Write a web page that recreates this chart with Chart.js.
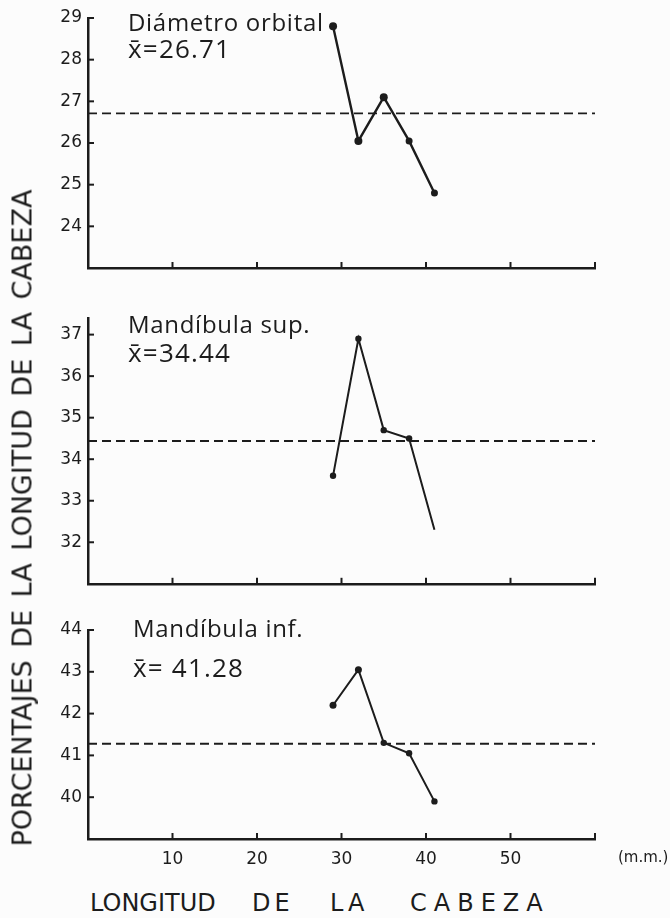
<!DOCTYPE html>
<html>
<head>
<meta charset="utf-8">
<script src="https://cdn.jsdelivr.net/npm/chart.js@4"></script>
<style>
  html, body { margin: 0; padding: 0; background: #fcfcfc; }
  body { width: 670px; height: 918px; position: relative; overflow: hidden;
         font-family: "DejaVu Sans", sans-serif; color: #1c1c1c; }
  .panel { position: absolute; left: 0; width: 670px; }
  .txt { position: absolute; white-space: nowrap; line-height: 1; }
  .ttl { font-family: "Open Sans", sans-serif; font-size: 24px; letter-spacing: 0.7px; }
  .mean { font-family: "Open Sans", sans-serif; font-size: 26px; letter-spacing: 1.2px; }
  #ytitle { left: 22px; top: 518px; font-size: 27px; word-spacing: 4px;
            transform: translate(-50%, -50%) rotate(-90deg); }
  .xw { top: 891px; font-size: 24px; }
  #unit { left: 618px; top: 850px; font-size: 15px; }
</style>
</head>
<body>
<div class="panel" style="top:0;height:290px"><canvas id="cOrb"></canvas></div>
<div class="panel" style="top:300px;height:300px"><canvas id="cSup"></canvas></div>
<div class="panel" style="top:610px;height:270px"><canvas id="cInf"></canvas></div>

<div class="txt ttl" style="left:128px;top:10px">Diámetro orbital</div>
<div class="txt mean" style="left:128px;top:35px">x̄=26.71</div>
<div class="txt ttl" style="left:128px;top:312px">Mandíbula sup.</div>
<div class="txt mean" style="left:128px;top:339px">x̄=34.44</div>
<div class="txt ttl" style="left:133px;top:616px">Mandíbula inf.</div>
<div class="txt mean" style="left:133px;top:654px">x̄= 41.28</div>

<div id="ytitle" class="txt">PORCENTAJES DE LA LONGITUD DE LA CABEZA</div>
<div class="txt xw" style="left:90px">LONGITUD</div>
<div class="txt xw" style="left:252px;letter-spacing:4px">DE</div>
<div class="txt xw" style="left:330px;letter-spacing:4px">LA</div>
<div class="txt xw" style="left:410px;letter-spacing:7px">CABEZA</div>
<div id="unit" class="txt">(m.m.)</div>

<script>
// Head length (mm) of each group
const headLength = [29, 32, 35, 38, 41];
// Percentages of head length
const orbitalDiameter = [28.8, 26.05, 27.1, 26.05, 24.8];
const upperJaw = [33.6, 36.9, 34.7, 34.5, 32.3];
const lowerJaw = [42.2, 43.05, 41.3, 41.05, 39.9];
// Means shown as dashed reference lines
const orbitalMean = 26.71;
const upperJawMean = 34.44;
const lowerJawMean = 41.28;
// Axis ranges and tick labels
const xRange = [0, 60];
const xTickLabels = [10, 20, 30, 40, 50];
const orbitalTicks = [24, 25, 26, 27, 28, 29];
const upperJawTicks = [32, 33, 34, 35, 36, 37];
const lowerJawTicks = [40, 41, 42, 43, 44];

const INK = '#1c1c1c';

// Short tick marks drawn inward from both axis lines
const inwardTicks = {
  id: 'inwardTicks',
  afterDraw(chart) {
    const { ctx, chartArea: a, scales: { x, y } } = chart;
    ctx.save();
    ctx.strokeStyle = INK;
    ctx.lineWidth = 2;
    y.ticks.forEach(t => {
      if (t.value <= y.min) return;
      const py = y.getPixelForValue(t.value);
      ctx.beginPath(); ctx.moveTo(a.left, py); ctx.lineTo(a.left + 6, py); ctx.stroke();
    });
    x.ticks.forEach(t => {
      if (t.value <= x.min) return;
      const px = x.getPixelForValue(t.value);
      ctx.beginPath(); ctx.moveTo(px, a.bottom); ctx.lineTo(px, a.bottom - 6); ctx.stroke();
    });
    ctx.restore();
  }
};

function makePanel(id, values, mean, yMin, yMax, yLabels, padTop, xAxisHeight, showX, markers, lineWidth) {
  const points = headLength.map((h, i) => ({ x: h, y: values[i] }));
  const meanLine = xRange.map(v => ({ x: v, y: mean }));
  return new Chart(document.getElementById(id), {
    type: 'line',
    data: {
      datasets: [
        {
          data: meanLine, borderColor: INK, borderWidth: 1.9, borderDash: [9, 5],
          pointRadius: 0, fill: false
        },
        {
          data: points, borderColor: INK, borderWidth: lineWidth, fill: false,
          pointRadius: markers, pointBackgroundColor: INK, pointBorderColor: INK,
          pointBorderWidth: 0
        }
      ]
    },
    options: {
      responsive: true, maintainAspectRatio: false, animation: false,
      layout: { padding: { top: padTop, right: 75, left: 0, bottom: 0 } },
      plugins: { legend: { display: false }, tooltip: { enabled: false } },
      scales: {
        x: {
          type: 'linear', min: xRange[0], max: xRange[1],
          ticks: {
            stepSize: 10, includeBounds: false, padding: 10, display: showX,
            color: INK, font: { family: 'DejaVu Sans', size: 17 },
            callback: v => xTickLabels.includes(v) ? String(v) : ''
          },
          grid: { display: true, drawOnChartArea: false, drawTicks: false },
          border: { display: true, color: INK, width: 2.5 },
          afterFit: s => { s.height = xAxisHeight; }
        },
        y: {
          type: 'linear', min: yMin, max: yMax,
          ticks: {
            stepSize: 1, includeBounds: false, padding: 6,
            color: INK, font: { family: 'DejaVu Sans', size: 17 },
            callback: v => yLabels.includes(v) ? String(v) : ''
          },
          grid: { display: true, drawOnChartArea: false, drawTicks: false },
          border: { display: true, color: INK, width: 2.5 },
          afterFit: s => { s.width = 88; }
        }
      }
    },
    plugins: [inwardTicks]
  });
}

makePanel('cOrb', orbitalDiameter, orbitalMean, 23, 29, orbitalTicks, 18, 22, false, [4, 4, 4, 3.5, 3.5], 2.4);
makePanel('cSup', upperJaw, upperJawMean, 31, 37.4, upperJawTicks, 18, 15, false, [3.2, 3.2, 3.2, 3.2, 0], 2);
makePanel('cInf', lowerJaw, lowerJawMean, 39, 44, lowerJawTicks, 20, 41, true, [3.5, 3.5, 3.2, 3.2, 3.2], 2);
</script>
</body>
</html>
